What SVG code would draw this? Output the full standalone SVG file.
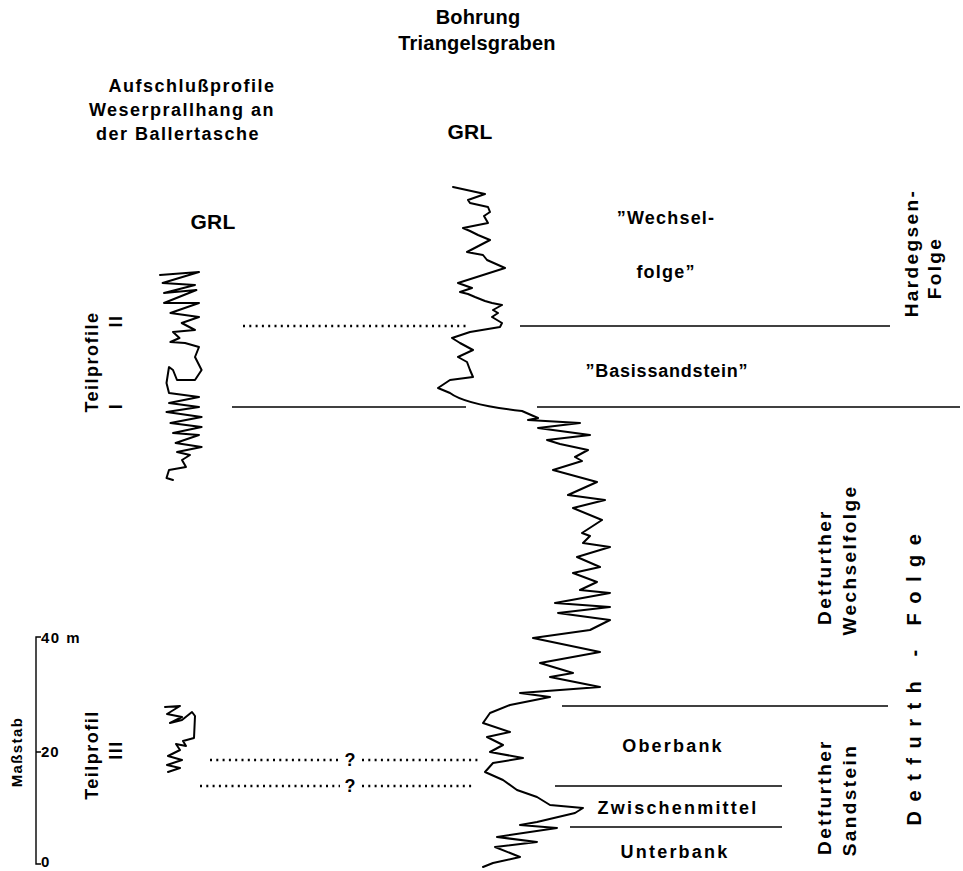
<svg xmlns="http://www.w3.org/2000/svg" width="963" height="871" viewBox="0 0 963 871">
<style>
text{font-family:"Liberation Sans",Arial,sans-serif;font-weight:bold;fill:#000}
.t17{font-size:18px;letter-spacing:1.5px}
.t19{font-size:20px;letter-spacing:0.2px}
.grl{font-size:21px;letter-spacing:0.3px}
.lyr{font-size:18px;letter-spacing:2.2px;text-anchor:middle}
.vert{font-size:19px;letter-spacing:2.4px;text-anchor:middle}
.curve{fill:none;stroke:#000;stroke-width:2;stroke-linejoin:round;stroke-linecap:round}
.line{fill:none;stroke:#000;stroke-width:1.4}
.dot{fill:none;stroke:#000;stroke-width:2.3;stroke-dasharray:2 4.3}
</style>
<rect width="963" height="871" fill="#fff"/>

<g id="titles">
<text class="t19" x="478" y="24" text-anchor="middle">Bohrung</text>
<text class="t19" x="477" y="50" text-anchor="middle">Triangelsgraben</text>
<text class="t17" x="192" y="92" text-anchor="middle">Aufschlußprofile</text>
<text class="t17" x="182" y="116" text-anchor="middle">Weserprallhang an</text>
<text class="t17" x="178" y="140" text-anchor="middle">der Ballertasche</text>
<text class="grl" x="470" y="139" text-anchor="middle">GRL</text>
<text class="grl" x="213" y="229" text-anchor="middle">GRL</text>
</g>

<g id="scale">
<path class="line" d="M41,637 H36 V864 H41 M36,752 H41" stroke-width="1.6"/>
<text x="41" y="643" font-size="15" letter-spacing="1.5">40 m</text>
<text x="41" y="757" font-size="15" letter-spacing="1">20</text>
<text x="41" y="867" font-size="15">0</text>
<text transform="translate(22,752) rotate(-90)" font-size="15" letter-spacing="1.4" text-anchor="middle">Maßstab</text>
</g>

<g id="teilprofile-labels">
<text transform="translate(98,362) rotate(-90)" class="t17" text-anchor="middle">Teilprofile</text>
<text transform="translate(122,321) rotate(-90)" class="t17" text-anchor="middle">II</text>
<text transform="translate(122,406) rotate(-90)" class="t17" text-anchor="middle">I</text>
<text transform="translate(98,755) rotate(-90)" class="t17" text-anchor="middle">Teilprofil</text>
<text transform="translate(122,750) rotate(-90)" class="t17" text-anchor="middle">III</text>
</g>

<g id="curves">
<path id="grl-left-upper" class="curve" d="M160,275 L199,272 L162.6,283 L195,285 L164,293 L196.4,290 L164,303 L199,303 L170.4,313 L199,317 L181.7,323 L195,330 L173,332 L179.5,338 L170.4,342 L185,343 L199,347 L195,357 L201.6,370 L195,380 L177,380 L173,370 L169,367 L166.5,383 L169,393 L199,397 L169,403 L199,407 L166.5,412 L201.6,417 L170.4,423 L201.6,427 L173,433 L199,435 L175.6,443 L201.6,447 L177,452 L190,455 L182,460 L186,467 L169,470 L166.5,478 L173,480"/>
<path id="grl-left-lower" class="curve" d="M165,707 L180,706 L167,714 L182,717 L170,723 L182,720 L192,712 L195,716 L194,738 L183,741 L186,746 L176,744 L180,750 L168,756 L182,760 L167,765 L180,768 L168,772"/>
<path id="grl-main" class="curve" d="M453,187 L485,194 L468,200 L470,203 L488,207 L490,212 L484,216 L488,223 L463,228 L470,231 L478,235 L490,240 L467,252 L472,253 L483,255 L487,260 L505,268 L458,283 L472,288 L460,292 L468,294 L475,297 L485,301 L492,303 L502,305 L493,310 L498,313 L492,317 L502,323 L500,327 L470,332 L452,338 L460,343 L473,350 L458,357 L467,362 L470,370 L473,377 L450,380 L438,388 L450,393 C462,402 495,408 522,411 L538,418 L528,420 L580,423 L538,428 L590,435 L547,440 L560,444 L588,450 L575,457 L582,461 L553,470 L597,482 L568,495 L605,500 L573,508 L602,520 L582,533 L590,536 L583,543 L610,547 L577,557 L600,567 L573,573 L597,582 L580,590 L610,593 L555,603 L610,607 L558,613 L610,620 L590,630 L533,638 L600,652 L540,663 L573,673 L550,677 L600,687 L520,693 L550,697 L510,705 L490,713 L483,723 L510,732 L487,737 L503,745 L490,752 L523,758 L493,763 L485,772 L503,780 L517,790 L537,797 L550,805 L583,808 L575,813 L537,822 L520,825 L557,828 L497,837 L537,842 L495,847 L520,857 L493,863 L483,867"/>
</g>

<g id="connectors">
<line class="dot" x1="243" y1="326" x2="468" y2="326"/>
<line class="line" x1="520" y1="326" x2="890" y2="326"/>
<line class="line" x1="232" y1="407" x2="466" y2="407"/>
<line class="line" x1="537" y1="407" x2="960" y2="407"/>
<line class="line" x1="562" y1="706" x2="888" y2="706"/>
<line class="dot" x1="210" y1="760" x2="340" y2="760"/>
<line class="dot" x1="362" y1="760" x2="480" y2="760"/>
<line class="dot" x1="200" y1="786" x2="340" y2="786"/>
<line class="dot" x1="362" y1="786" x2="472" y2="786"/>
<line class="line" x1="555" y1="786" x2="782" y2="786"/>
<line class="line" x1="570" y1="827" x2="782" y2="827"/>
<text x="350" y="766" font-size="18" text-anchor="middle">?</text>
<text x="350" y="792" font-size="18" text-anchor="middle">?</text>
</g>

<g id="layers">
<text class="lyr" x="666" y="224" style="letter-spacing:1.2px">”Wechsel-</text>
<text class="lyr" x="666" y="278" style="letter-spacing:1.2px">folge”</text>
<text class="lyr" x="667" y="377" style="letter-spacing:0.8px">”Basissandstein”</text>
<text class="lyr" x="673" y="752">Oberbank</text>
<text class="lyr" x="678" y="814">Zwischenmittel</text>
<text class="lyr" x="675" y="858">Unterbank</text>
</g>

<g id="units">
<text class="vert" transform="translate(918,253) rotate(-90)">Hardegsen-</text>
<text class="vert" transform="translate(941,268) rotate(-90)">Folge</text>
<text class="vert" transform="translate(831,567) rotate(-90)">Detfurther</text>
<text class="vert" transform="translate(856,560) rotate(-90)">Wechselfolge</text>
<text class="vert" transform="translate(831,797) rotate(-90)">Detfurther</text>
<text class="vert" transform="translate(856,800) rotate(-90)">Sandstein</text>
<text class="vert" transform="translate(921,675) rotate(-90)" style="font-size:20px;letter-spacing:9.5px">Detfurth - Folge</text>
</g>
</svg>
